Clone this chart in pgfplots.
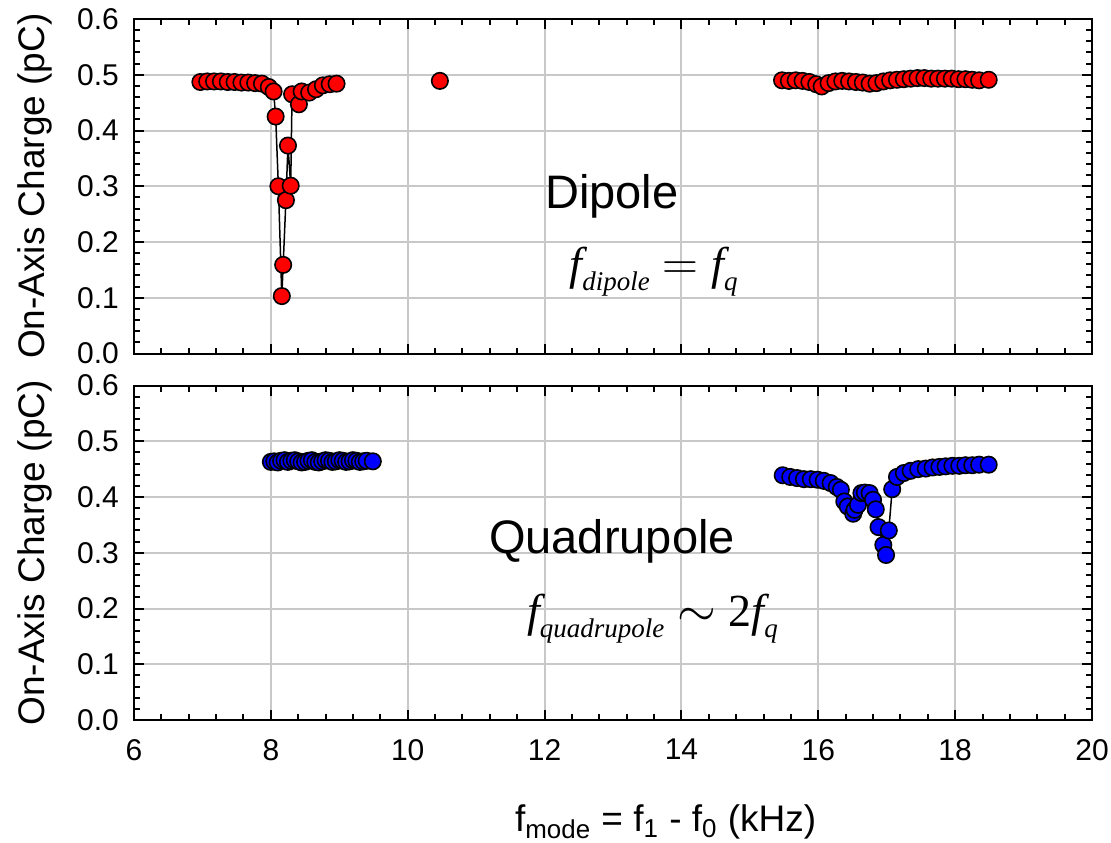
\documentclass[border=0pt]{standalone}
\usepackage{pgfplots}
\pgfplotsset{compat=1.18}
\usepackage{fontspec}
\setmainfont{Liberation Sans}
\newfontfamily\tms{Liberation Serif}

\definecolor{gridgray}{RGB}{200,200,200}

\newcommand{\fsym}{{\tms\itshape f}}
\newcommand{\sub}[1]{\raisebox{-5.5pt}{\fontsize{13.5}{15}\selectfont\tms\itshape #1}}

\pgfplotsset{
  panel/.style={
    scale only axis, width=479pt, height=167.25pt,
    xmin=6, xmax=20, ymin=0, ymax=0.6,
    xtick={6,8,10,12,14,16,18,20},
    ytick={0,0.1,0.2,0.3,0.4,0.5,0.6},
    minor x tick num=4, minor y tick num=4,
    tick align=inside,
    major tick length=5pt, minor tick length=3pt,
    every tick/.style={black, line width=1pt},
    axis line style={line width=1pt},
    grid=major, major grid style={draw=gridgray, line width=1pt},
    /pgf/number format/assume math mode=true,
    ticklabel style={font=\fontsize{15}{18}\selectfont},
    xticklabel style={yshift=-6pt},
    yticklabel style={xshift=-4pt, /pgf/number format/fixed,
      /pgf/number format/fixed zerofill, /pgf/number format/precision=1},
    ylabel={On-Axis Charge (pC)},
    ylabel style={at={(axis description cs:-0.1033,0.5)}, anchor=center,
      font=\fontsize{18.5}{22}\selectfont},
  },
  series/.style={black, line width=0.75pt, mark=*, mark size=4.1pt,
    mark options={fill=#1, draw=black, line width=0.8pt}},
}

\begin{document}
\begin{tikzpicture}
\path[use as bounding box] (-67pt,-61pt) rectangle (488.5pt,360pt);

% ---------------- dipole panel ----------------
\begin{axis}[panel, at={(0,183.25pt)}, anchor=south west, xticklabels={}]
\addplot[series=red] coordinates {
(6.97,0.487) (7.07,0.488) (7.17,0.488) (7.27,0.488) (7.37,0.487) (7.47,0.487)
(7.57,0.486) (7.67,0.486) (7.77,0.485) (7.87,0.484) (7.97,0.478) (8.04,0.470)
(8.07,0.425) (8.11,0.300) (8.16,0.103) (8.18,0.159) (8.22,0.275) (8.25,0.373)
(8.29,0.301) (8.31,0.465) (8.41,0.447) (8.45,0.470) (8.56,0.468) (8.66,0.474)
(8.76,0.481) (8.86,0.483) (8.96,0.484)
};
\addplot[series=red] coordinates {(10.47,0.489)};
\addplot[series=red] coordinates {
(15.47,0.490) (15.57,0.489) (15.67,0.490) (15.77,0.489) (15.87,0.487) (15.97,0.483)
(16.05,0.479) (16.15,0.485) (16.25,0.488) (16.35,0.489) (16.45,0.488) (16.55,0.487)
(16.65,0.486) (16.75,0.484) (16.85,0.485) (16.95,0.488) (17.05,0.490) (17.15,0.491)
(17.25,0.492) (17.35,0.493) (17.45,0.494) (17.55,0.494) (17.65,0.493) (17.75,0.493)
(17.85,0.493) (17.95,0.493) (18.05,0.492) (18.15,0.492) (18.25,0.491) (18.35,0.490)
(18.49,0.491)
};
\node[font=\fontsize{23.5}{28}\selectfont] at (axis cs:12.985,0.281) {Dipole};
\node[anchor=base west, inner sep=0pt, font=\fontsize{23}{27}\selectfont]
  at (axis cs:12.36,0.132) {\fsym\sub{dipole}\;$=$\;\fsym\sub{q}};
\end{axis}

% ---------------- quadrupole panel ----------------
\begin{axis}[panel, at={(0,0)}, anchor=south west,
  xlabel={f\textsubscript{mode} = f\textsubscript{1} - f\textsubscript{0} (kHz)},
  xlabel style={at={(axis description cs:0.555,-0.305)}, anchor=center,
    font=\fontsize{18.5}{22}\selectfont}]
\addplot[series=blue] coordinates {
(8.00,0.463) (8.05,0.464) (8.10,0.462) (8.15,0.465) (8.20,0.466) (8.25,0.463)
(8.30,0.465) (8.35,0.466) (8.40,0.464) (8.45,0.462) (8.50,0.463) (8.55,0.465)
(8.60,0.466) (8.65,0.463) (8.70,0.462) (8.75,0.464) (8.80,0.466) (8.85,0.465)
(8.90,0.463) (8.95,0.464) (9.00,0.466) (9.05,0.465) (9.10,0.463) (9.15,0.464)
(9.20,0.466) (9.25,0.465) (9.30,0.463) (9.35,0.464) (9.40,0.465) (9.49,0.464)
};
\addplot[series=blue] coordinates {
(15.48,0.439) (15.59,0.436) (15.69,0.434) (15.79,0.432) (15.89,0.432) (15.99,0.431)
(16.08,0.429) (16.18,0.425) (16.27,0.418) (16.33,0.413) (16.38,0.392) (16.43,0.383)
(16.51,0.370) (16.53,0.377) (16.58,0.386) (16.63,0.407) (16.68,0.408) (16.75,0.407)
(16.80,0.395) (16.84,0.378) (16.88,0.346) (16.95,0.314) (16.99,0.296) (17.03,0.340)
(17.08,0.414) (17.15,0.436) (17.25,0.443) (17.35,0.447) (17.46,0.450) (17.57,0.451)
(17.67,0.453) (17.77,0.454) (17.86,0.455) (17.96,0.456) (18.06,0.456) (18.15,0.457)
(18.25,0.457) (18.35,0.458) (18.49,0.458)
};
\node[font=\fontsize{23.5}{28}\selectfont] at (axis cs:12.985,0.321) {Quadrupole};
\node[anchor=base west, inner sep=0pt, font=\fontsize{23}{27}\selectfont]
  at (axis cs:11.74,0.167) {\fsym\sub{quadrupole}\;$\sim$\;{\tms 2}\fsym\sub{q}};
\end{axis}
\end{tikzpicture}
\end{document}
